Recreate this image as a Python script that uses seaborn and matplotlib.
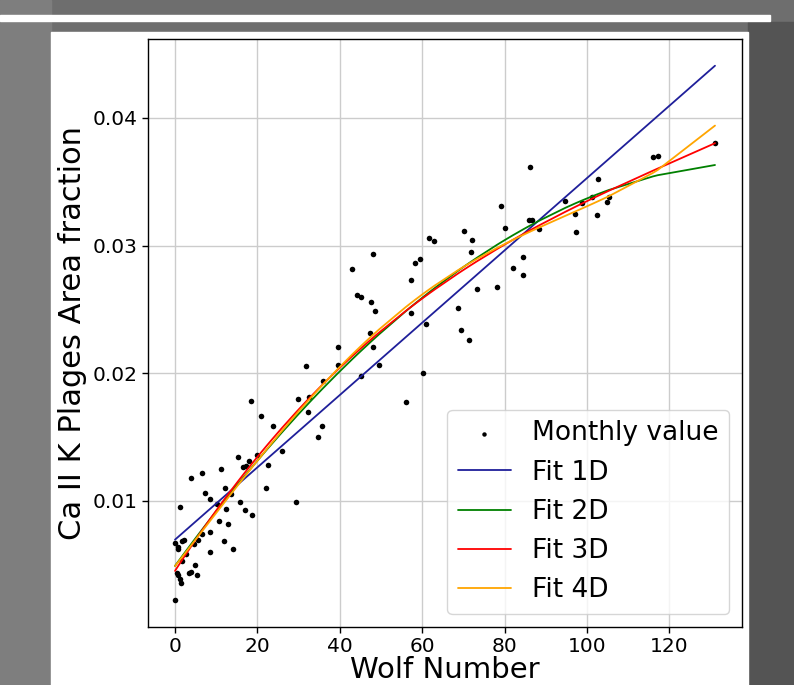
import numpy as np
import seaborn as sns
import matplotlib.pyplot as plt
from matplotlib.patches import Rectangle

# monthly values (Wolf number, Ca II K plage area fraction)
wolf = [0.0, 1.2, 0.0, 0.65, 0.8, 1.8, 2.3, 1.6, 2.6, 0.45, 0.8, 1.2, 1.5,
        3.4, 4.0, 4.9, 5.3, 4.7, 5.6, 6.5, 8.5, 8.5, 4.0, 6.5, 7.4, 8.5,
        10.1, 11.1, 12.1, 12.4, 10.6, 11.8, 12.9, 14.2, 13.5, 15.2, 15.7,
        16.4, 17.2, 18.0, 17.0, 18.8, 19.9, 18.5, 20.8, 23.7, 22.6, 22.2,
        26.0, 29.4, 29.9, 32.4, 35.6, 34.8, 31.7, 36.0, 39.5, 39.5, 43.0,
        44.2, 45.1, 48.0, 47.7, 48.5, 47.4, 48.0, 49.5, 45.1, 56.0, 60.1,
        57.3, 58.3, 59.6, 57.3, 60.9, 61.7, 63.0, 68.6, 69.4, 71.4, 70.1,
        72.0, 71.8, 73.3, 78.2, 79.2, 80.0, 82.0, 84.6, 84.6, 86.0, 86.6,
        86.2, 88.4, 94.7, 97.2, 97.3, 98.9, 101.3, 102.7, 102.4, 104.8,
        105.3, 116.0, 117.2, 131.1, 32.6]
area = [0.00220, 0.00951, 0.00669, 0.00638, 0.00619, 0.00685, 0.00690,
        0.00528, 0.00580, 0.00435, 0.00416, 0.00385, 0.00357, 0.00437,
        0.00445, 0.00497, 0.00416, 0.00664, 0.00695, 0.00742, 0.00752,
        0.00600, 0.01180, 0.01220, 0.01060, 0.01010, 0.00977, 0.01248,
        0.01096, 0.00932, 0.00841, 0.00685, 0.00815, 0.00620, 0.01050,
        0.01342, 0.00992, 0.01266, 0.01274, 0.01315, 0.00927, 0.00890,
        0.01357, 0.01784, 0.01665, 0.01586, 0.01284, 0.01096, 0.01393,
        0.00992, 0.01795, 0.01698, 0.01586, 0.01503, 0.02056, 0.01936,
        0.02206, 0.02063, 0.02819, 0.02616, 0.02597, 0.02931, 0.02556,
        0.02488, 0.02311, 0.02202, 0.02063, 0.01977, 0.01774, 0.02003,
        0.02733, 0.02861, 0.02895, 0.02470, 0.02384, 0.03056, 0.03033,
        0.02514, 0.02335, 0.02259, 0.03117, 0.03041, 0.02947, 0.02660,
        0.02676, 0.03312, 0.03140, 0.02827, 0.02910, 0.02769, 0.03197,
        0.03197, 0.03617, 0.03132, 0.03353, 0.03249, 0.03109, 0.03335,
        0.03382, 0.03525, 0.03240, 0.03338, 0.03377, 0.03695, 0.03705,
        0.03805, 0.01810]

fit_degrees = [1, 2, 3, 4]
fit_labels = ['Fit 1D', 'Fit 2D', 'Fit 3D', 'Fit 4D']
fit_colors = ['#1f1f9a', 'green', 'red', 'orange']

sns.set_style("ticks", {"axes.edgecolor": "black", "xtick.color": "black",
                        "ytick.color": "black", "text.color": "black",
                        "axes.labelcolor": "black"})
plt.rcParams['font.family'] = ['DejaVu Sans']

fig = plt.figure(figsize=(7.94, 6.85), dpi=100, facecolor='#6e6e6e')

# slide-like backdrop around the white figure
fig.patches.append(Rectangle((0, 0), 51 / 794, 1, transform=fig.transFigure,
                             color='#7e7e7e', zorder=-3))
fig.patches.append(Rectangle((748 / 794, 0), 46 / 794, 1 - 22 / 685,
                             transform=fig.transFigure, color='#545454', zorder=-3))
fig.patches.append(Rectangle((0, 1 - 21 / 685), 770 / 794, 6 / 685,
                             transform=fig.transFigure, color='white', zorder=-2))
fig.patches.append(Rectangle((51 / 794, 0), 697 / 794, 1 - 32 / 685,
                             transform=fig.transFigure, color='white', zorder=-1))

ax = fig.add_axes([148 / 794, 58 / 685, 594 / 794, 588 / 685])
ax.grid(True, color='#cccccc', lw=1.0)
ax.set_axisbelow(True)

sns.scatterplot(x=wolf, y=area, color='black', s=16, linewidth=0,
                label='Monthly value', ax=ax, zorder=3)

xs = np.unique(wolf)
for deg, lab, col in zip(fit_degrees, fit_labels, fit_colors):
    coefs = np.polyfit(wolf, area, deg)
    sns.lineplot(x=xs, y=np.polyval(coefs, xs), color=col, lw=1.3,
                 label=lab, ax=ax, zorder=4)

ax.set_xlabel('Wolf Number', fontsize=21, labelpad=0)
ax.set_ylabel('Ca II K Plages Area fraction', fontsize=22)
ax.tick_params(labelsize=14.5, width=1, length=4)
for s in ax.spines.values():
    s.set_linewidth(1.0)
ax.set_xticks([0, 20, 40, 60, 80, 100, 120])
ax.set_yticks([0.01, 0.02, 0.03, 0.04])
ax.legend(loc='lower right', fontsize=19, frameon=True, markerscale=0.8)

fig.savefig('out.png', dpi=100, facecolor=fig.get_facecolor())
